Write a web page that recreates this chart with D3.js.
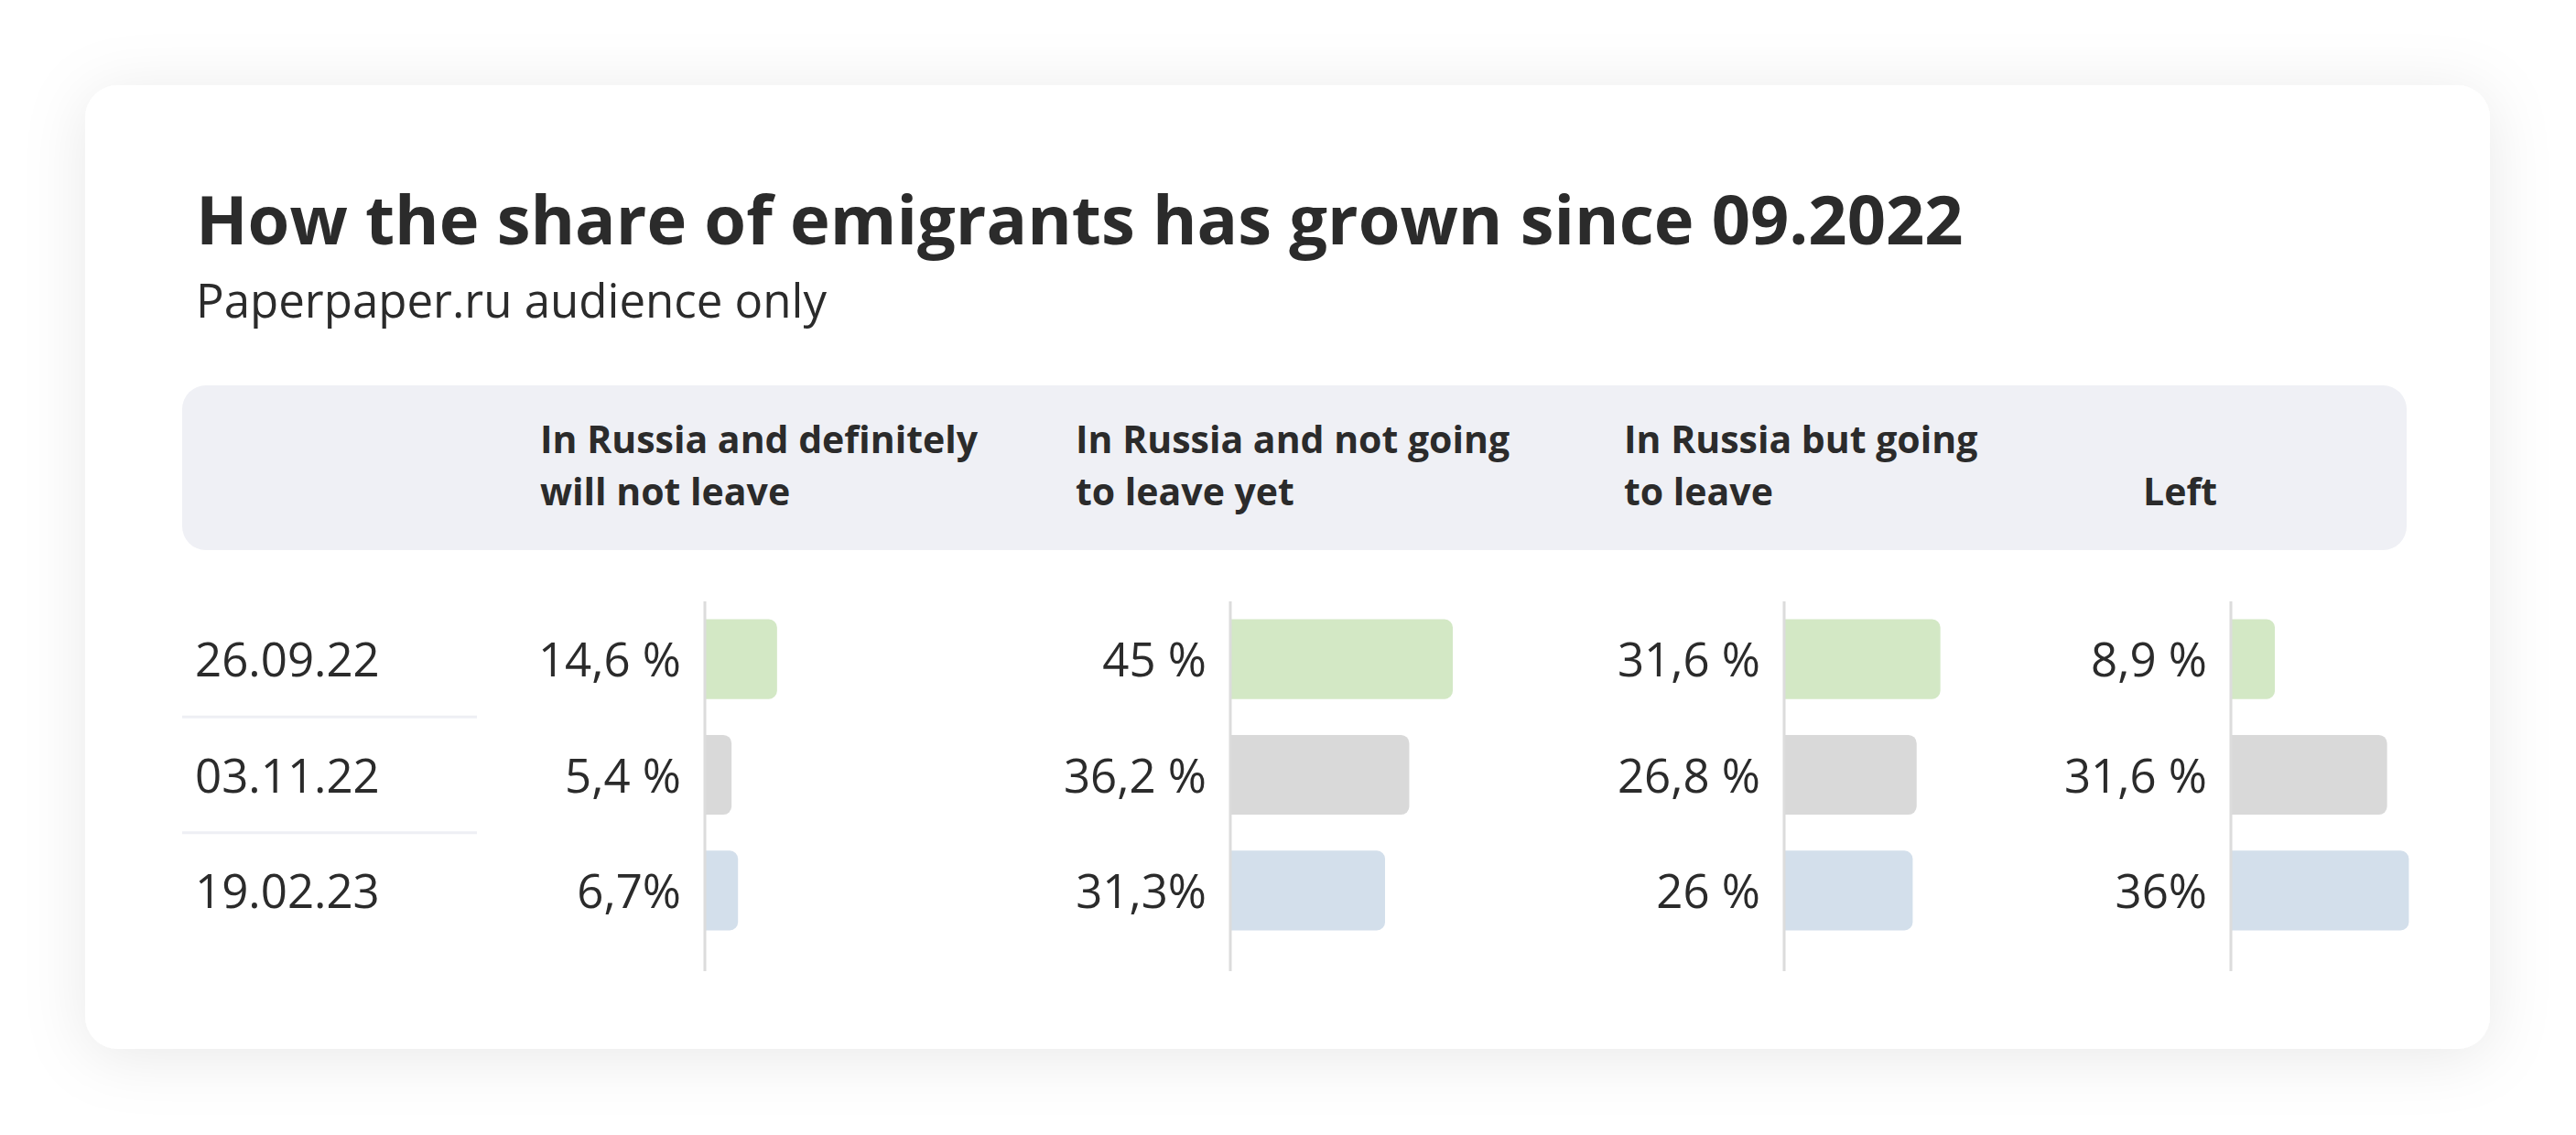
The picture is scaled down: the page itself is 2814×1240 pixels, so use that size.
<!DOCTYPE html>
<html>
<head>
<meta charset="utf-8">
<script src="https://cdn.jsdelivr.net/npm/d3@7"></script>
<style>
  body { margin: 0; background: #ffffff; }
  svg { display: block; }
</style>
</head>
<body>
<script>
// data
var dates = ["26.09.22", "03.11.22", "19.02.23"];
var columns = ["stay", "notYet", "going", "left"];
var headerLines = [
    ["In Russia and definitely", "will not leave"],
    ["In Russia and not going", "to leave yet"],
    ["In Russia but going", "to leave"],
    ["", "Left"]
];
var stayValues   = [14.6, 5.4, 6.7];
var notYetValues = [45, 36.2, 31.3];
var goingValues  = [31.6, 26.8, 26];
var leftValues   = [8.9, 31.6, 36];
var stayLabels   = ["14,6 %", "5,4 %", "6,7%"];
var notYetLabels = ["45 %", "36,2 %", "31,3%"];
var goingLabels  = ["31,6 %", "26,8 %", "26 %"];
var leftLabels   = ["8,9 %", "31,6 %", "36%"];
var rowColors = ["#d3e8c5", "#d9d9d9", "#d3dfeb"];

var w = 2814, h = 1240;
var textColor = "#2b2b2b";
var font = "'Open Sans', 'Noto Sans', sans-serif";

var series = [stayValues, notYetValues, goingValues, leftValues];
var labels = [stayLabels, notYetLabels, goingLabels, leftLabels];

var svg = d3.select("body").append("svg").attr("width", w).attr("height", h);

// card shadow
var defs = svg.append("defs");
var f = defs.append("filter").attr("id", "shadow")
    .attr("x", "-10%").attr("y", "-20%").attr("width", "120%").attr("height", "140%");
f.append("feDropShadow").attr("dx", 0).attr("dy", 8).attr("stdDeviation", 34)
    .attr("flood-color", "#000").attr("flood-opacity", 0.09);

svg.append("rect")
    .attr("x", 93).attr("y", 93).attr("width", 2627).attr("height", 1053)
    .attr("rx", 36).attr("fill", "#fff")
    .attr("filter", "url(#shadow)");

// title + subtitle
svg.append("text")
    .attr("x", 214).attr("y", 267)
    .attr("font-family", font).attr("font-weight", 700).attr("font-size", "74px")
    .attr("fill", textColor)
    .text("How the share of emigrants has grown since 09.2022");

svg.append("text")
    .attr("x", 214).attr("y", 347)
    .attr("font-family", font).attr("font-size", "51px")
    .attr("fill", textColor)
    .text("Paperpaper.ru audience only");

// header band
svg.append("rect")
    .attr("x", 199).attr("y", 421).attr("width", 2430).attr("height", 180)
    .attr("rx", 26).attr("fill", "#eff0f5");

// scales
var axisX = d3.scaleOrdinal().domain(columns).range([770, 1344, 1949, 2437]);
var headX = d3.scaleOrdinal().domain(columns).range([590, 1175, 1774, 2341]);
var x = d3.scaleLinear().domain([0, 50]).range([0, 270]);
var y = d3.scaleBand().domain(dates).range([657, 1036]).paddingInner(0.31).paddingOuter(0.155);

// header text
var heads = svg.append("g").selectAll("text")
    .data(columns)
    .enter()
    .append("text")
    .attr("font-family", font).attr("font-weight", 700).attr("font-size", "41px")
    .attr("fill", textColor);

heads.selectAll("tspan")
    .data((d, i) => headerLines[i].map((t) => [d, t]))
    .enter()
    .append("tspan")
    .attr("x", (d) => headX(d[0]))
    .attr("y", (d, i) => 495 + i * 57)
    .text((d) => d[1]);

// row dates
svg.append("g").selectAll("text")
    .data(dates)
    .enter()
    .append("text")
    .attr("x", 213)
    .attr("y", (d) => y(d) + y.bandwidth() / 2 + 19)
    .attr("font-family", font).attr("font-size", "51px")
    .attr("fill", textColor)
    .text((d) => d);

// separators between date rows
svg.append("g").selectAll("line")
    .data(dates.slice(1))
    .enter()
    .append("line")
    .attr("x1", 199).attr("x2", 521)
    .attr("y1", (d) => y(d) - y.step() * y.paddingInner() / 2)
    .attr("y2", (d) => y(d) - y.step() * y.paddingInner() / 2)
    .attr("stroke", "#eeeff4").attr("stroke-width", 3);

// rounded-right bar
function barPath(x0, y0, bw, bh, r) {
    r = Math.min(r, bw / 2);
    var p = d3.path();
    p.moveTo(x0, y0);
    p.lineTo(x0 + bw - r, y0);
    p.arcTo(x0 + bw, y0, x0 + bw, y0 + r, r);
    p.lineTo(x0 + bw, y0 + bh - r);
    p.arcTo(x0 + bw, y0 + bh, x0 + bw - r, y0 + bh, r);
    p.lineTo(x0, y0 + bh);
    p.closePath();
    return p.toString();
}

var cols = svg.append("g").selectAll("g")
    .data(columns)
    .enter()
    .append("g");

cols.selectAll("path")
    .data((c, ci) => series[ci].map((v, ri) => ({ col: c, date: dates[ri], value: v, row: ri })))
    .enter()
    .append("path")
    .attr("d", (d) => barPath(axisX(d.col), y(d.date), x(d.value), y.bandwidth(), 9))
    .attr("fill", (d) => rowColors[d.row]);

cols.append("line")
    .attr("x1", (c) => axisX(c)).attr("x2", (c) => axisX(c))
    .attr("y1", 657).attr("y2", 1061)
    .attr("stroke", "#dcdcdc").attr("stroke-width", 3);

cols.selectAll("text")
    .data((c, ci) => labels[ci].map((t, ri) => ({ col: c, date: dates[ri], label: t })))
    .enter()
    .append("text")
    .attr("x", (d) => axisX(d.col) - 26)
    .attr("y", (d) => y(d.date) + y.bandwidth() / 2 + 19)
    .attr("text-anchor", "end")
    .attr("font-family", font).attr("font-size", "51px")
    .attr("fill", textColor)
    .text((d) => d.label);
</script>
</body>
</html>
